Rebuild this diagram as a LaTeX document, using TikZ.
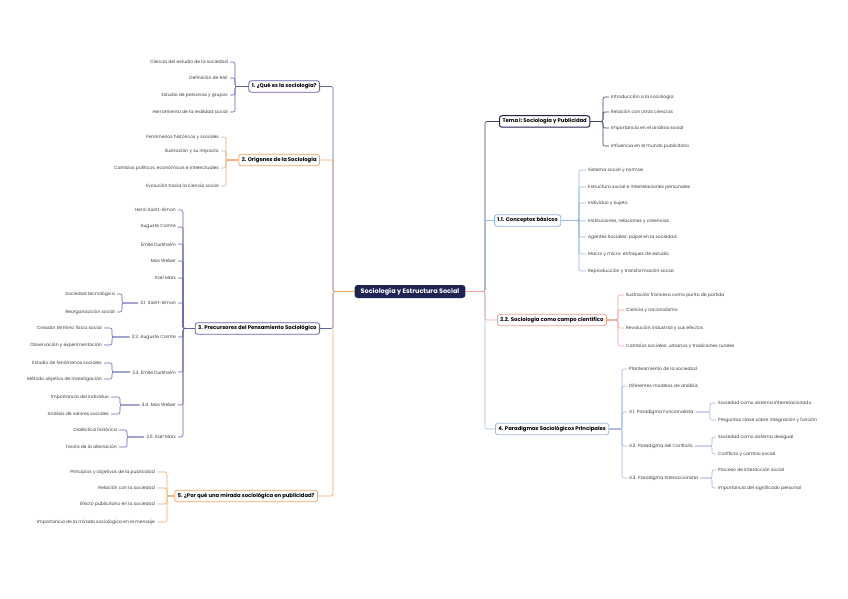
\documentclass[tikz,border=0pt]{standalone}
\usepackage{fontspec}
\setmainfont{Poppins}
\definecolor{navy}{HTML}{1E2452}
\definecolor{cpur}{HTML}{5F64B2}
\definecolor{cora}{HTML}{F3A566}
\definecolor{cdark}{HTML}{3A3F6B}
\definecolor{cblue}{HTML}{93B4E6}
\definecolor{csal}{HTML}{EE9F8F}
\definecolor{cste}{HTML}{A3B8DE}
\definecolor{leafc}{HTML}{3C3C3C}
\begin{document}
\begin{tikzpicture}[x=1pt,y=-1pt,
 ctr/.style={fill=navy, text=white, rounded corners=3pt, font=\fontsize{6.5}{7.5}\selectfont\bfseries, minimum height=13pt, inner xsep=6pt, inner ysep=1pt},
 br/.style={draw=#1, line width=0.8pt, rounded corners=2.5pt, fill=white, font=\fontsize{5.3}{6.3}\selectfont\bfseries, minimum height=11.5pt, inner xsep=3pt, inner ysep=1pt},
 lf/.style={font=\fontsize{4.5}{5.5}\selectfont, text=leafc, inner xsep=2pt, inner ysep=1pt},
 cn/.style={draw=#1, line width=0.6pt, rounded corners=2pt}]
\useasboundingbox (0,0) rectangle (848,599);
\fill[white] (0,0) rectangle (848,599);

% centre
\node[ctr] (ctr) at (410,291.5) {Sociología y Estructura Social};
\coordinate (Lt) at (333,291.5);
\coordinate (Rt) at (485,291.5);

% ---------- left branches ----------
\node[br=cpur, anchor=east] (b1) at (320,86.5) {1. ¿Qué es la sociología?};
\node[br=cora, anchor=east] (b2) at (320,160) {2. Orígenes de la Sociología};
\node[br=cpur, anchor=east] (b3) at (320,328.5) {3. Precursores del Pensamiento Sociológico};
\node[br=cora, anchor=east] (b5) at (318,496) {5. ¿Por qué una mirada sociológica en publicidad?};

\draw[cn=cpur] (ctr.west) -- (Lt) |- (b1.east);
\draw[cn=cpur] (ctr.west) -- (Lt) |- (b3.east);
\draw[cn=cora] (ctr.west) -- (Lt) |- (b2.east);
\draw[cn=cora] (ctr.west) -- (Lt) |- (b5.east);

% branch 1
\coordinate (v1) at (235,86.5);
\node[lf, anchor=east] (l11) at (230,62) {Ciencia del estudio de la sociedad};
\node[lf, anchor=east] (l12) at (230,78) {Definición de RAE};
\node[lf, anchor=east] (l13) at (230,95) {Estudio de personas y grupos};
\node[lf, anchor=east] (l14) at (230,112) {Herramienta de la realidad social};
\foreach \n in {l11,l12,l13,l14} \draw[cn=cpur] (b1.west) -- (v1) |- (\n.east);

% branch 2
\coordinate (v2) at (226,160);
\node[lf, anchor=east] (l21) at (221,137) {Fenómenos históricos y sociales};
\node[lf, anchor=east] (l22) at (221,151) {Ilustración y su impacto};
\node[lf, anchor=east] (l23) at (221,168) {Cambios políticos, económicos e intelectuales};
\node[lf, anchor=east] (l24) at (221,186) {Evolución hacia la ciencia social};
\foreach \n in {l21,l22,l23,l24} \draw[cn=cora] (b2.west) -- (v2) |- (\n.east);

% branch 3
\coordinate (v3) at (183,328.5);
\node[lf, anchor=east] (p1) at (178,210) {Henri Saint-Simon};
\node[lf, anchor=east] (p2) at (178,227) {Auguste Comte};
\node[lf, anchor=east] (p3) at (178,244) {Émile Durkheim};
\node[lf, anchor=east] (p4) at (178,261) {Max Weber};
\node[lf, anchor=east] (p5) at (178,278) {Karl Marx};
\node[lf, anchor=east] (s31) at (178,303) {3.1. Saint-Simon};
\node[lf, anchor=east] (s32) at (178,337) {3.2. Auguste Comte};
\node[lf, anchor=east] (s33) at (178,372) {3.3. Émile Durkheim};
\node[lf, anchor=east] (s34) at (178,405) {3.4. Max Weber};
\node[lf, anchor=east] (s35) at (178,437) {3.5. Karl Marx};
\foreach \n in {p1,p2,p3,p4,p5,s31,s32,s33,s34,s35} \draw[cn=cpur] (b3.west) -- (v3) |- (\n.east);

\coordinate (w31) at (122,303);
\node[lf, anchor=east] (t311) at (117,294) {Sociedad tecnológica};
\node[lf, anchor=east] (t312) at (117,312) {Reorganización social};
\foreach \n in {t311,t312} \draw[cn=cpur] (s31.west) -- (w31) |- (\n.east);

\coordinate (w32) at (112,337);
\node[lf, anchor=east] (t321) at (104,328) {Creador término física social};
\node[lf, anchor=east] (t322) at (104,345) {Observación y experimentación};
\foreach \n in {t321,t322} \draw[cn=cpur] (s32.west) -- (w32) |- (\n.east);

\coordinate (w33) at (112,372);
\node[lf, anchor=east] (t331) at (104,363) {Estudio de fenómenos sociales};
\node[lf, anchor=east] (t332) at (104,379) {Método objetivo de investigación};
\foreach \n in {t331,t332} \draw[cn=cpur] (s33.west) -- (w33) |- (\n.east);

\coordinate (w34) at (120,405);
\node[lf, anchor=east] (t341) at (111,397) {Importancia del individuo};
\node[lf, anchor=east] (t342) at (111,414) {Análisis de valores sociales};
\foreach \n in {t341,t342} \draw[cn=cpur] (s34.west) -- (w34) |- (\n.east);

\coordinate (w35) at (127,437);
\node[lf, anchor=east] (t351) at (119,430) {Dialéctica histórica};
\node[lf, anchor=east] (t352) at (119,447) {Teoría de la alienación};
\foreach \n in {t351,t352} \draw[cn=cpur] (s35.west) -- (w35) |- (\n.east);

% branch 5
\coordinate (v5) at (167,496);
\node[lf, anchor=east] (l51) at (157,472) {Principios y objetivos de la publicidad};
\node[lf, anchor=east] (l52) at (157,488) {Relación con la sociedad};
\node[lf, anchor=east] (l53) at (157,504) {Efecto publicitario en la sociedad};
\node[lf, anchor=east] (l54) at (157,522) {Importancia de la mirada sociológica en el mensaje};
\foreach \n in {l51,l52,l53,l54} \draw[cn=cora] (b5.west) -- (v5) |- (\n.east);

% ---------- right branches ----------
\node[br=navy, anchor=west, line width=1pt] (r1) at (499,121.5) {Tema I: Sociología y Publicidad};
\node[br=cblue, anchor=west] (r2) at (494,220.5) {1.1. Conceptos básicos};
\node[br=csal, anchor=west] (r3) at (497,320) {2.2. Sociología como campo científico};
\node[br=cste, anchor=west] (r4) at (495,429) {4. Paradigmas Sociológicos Principales};

\draw[cn=cdark] (ctr.east) -- (Rt) |- (r1.west);
\draw[cn=cblue] (ctr.east) -- (Rt) |- (r2.west);
\draw[cn=cste] (ctr.east) -- (Rt) |- (r4.west);
\draw[cn=csal] (ctr.east) -- (Rt) |- (r3.west);

% Tema I
\coordinate (u1) at (603,121.5);
\node[lf, anchor=west] (m11) at (609,97) {Introducción a la sociología};
\node[lf, anchor=west] (m12) at (609,112) {Relación con otras ciencias};
\node[lf, anchor=west] (m13) at (609,128) {Importancia en el análisis social};
\node[lf, anchor=west] (m14) at (609,146) {Influencia en el mundo publicitario};
\foreach \n in {m11,m12,m13,m14} \draw[cn=cdark] (r1.east) -- (u1) |- (\n.west);

% 1.1
\coordinate (u2) at (579,220.5);
\node[lf, anchor=west] (m21) at (586,170) {Sistema social y normas};
\node[lf, anchor=west] (m22) at (586,187) {Estructura social e interrelaciones personales};
\node[lf, anchor=west] (m23) at (586,203) {Individuo y Sujeto};
\node[lf, anchor=west] (m24) at (586,221) {Instituciones, relaciones y creencias};
\node[lf, anchor=west] (m25) at (586,237) {Agentes Sociales: papel en la sociedad};
\node[lf, anchor=west] (m26) at (586,254) {Macro y micro: enfoques de estudio};
\node[lf, anchor=west] (m27) at (586,271) {Reproducción y transformación social};
\foreach \n in {m21,m22,m23,m24,m25,m26,m27} \draw[cn=cblue] (r2.east) -- (u2) |- (\n.west);

% 2.2
\coordinate (u3) at (618,320);
\node[lf, anchor=west] (m31) at (624,295) {Ilustración francesa como punto de partida};
\node[lf, anchor=west] (m32) at (624,310) {Ciencia y racionalismo};
\node[lf, anchor=west] (m33) at (624,328) {Revolución industrial y sus efectos};
\node[lf, anchor=west] (m34) at (624,346) {Cambios sociales: urbanos y tradiciones rurales};
\foreach \n in {m31,m32,m33,m34} \draw[cn=csal] (r3.east) -- (u3) |- (\n.west);

% 4
\coordinate (u4) at (622,429);
\node[lf, anchor=west] (m41) at (627,369) {Planteamiento de la sociedad};
\node[lf, anchor=west] (m42) at (627,386) {Diferentes modelos de análisis};
\node[lf, anchor=west] (q41) at (627,412) {4.1. Paradigma Funcionalista};
\node[lf, anchor=west] (q42) at (627,446) {4.2. Paradigma del Conflicto};
\node[lf, anchor=west] (q43) at (627,478) {4.3. Paradigma Interaccionista};
\foreach \n in {m41,m42,q41,q42,q43} \draw[cn=cste] (r4.east) -- (u4) |- (\n.west);

\coordinate (z41) at (710,412);
\node[lf, anchor=west] (n411) at (716,403) {Sociedad como sistema interrelacionado};
\node[lf, anchor=west] (n412) at (716,420) {Preguntas clave sobre integración y función};
\foreach \n in {n411,n412} \draw[cn=cste] (q41.east) -- (z41) |- (\n.west);

\coordinate (z42) at (712,446);
\node[lf, anchor=west] (n421) at (716,437) {Sociedad como sistema desigual};
\node[lf, anchor=west] (n422) at (716,454) {Conflicto y cambio social};
\foreach \n in {n421,n422} \draw[cn=cste] (q42.east) -- (z42) |- (\n.west);

\coordinate (z43) at (712,478);
\node[lf, anchor=west] (n431) at (716,470) {Proceso de interacción social};
\node[lf, anchor=west] (n432) at (716,488) {Importancia del significado personal};
\foreach \n in {n431,n432} \draw[cn=cste] (q43.east) -- (z43) |- (\n.west);
\end{tikzpicture}
\end{document}
